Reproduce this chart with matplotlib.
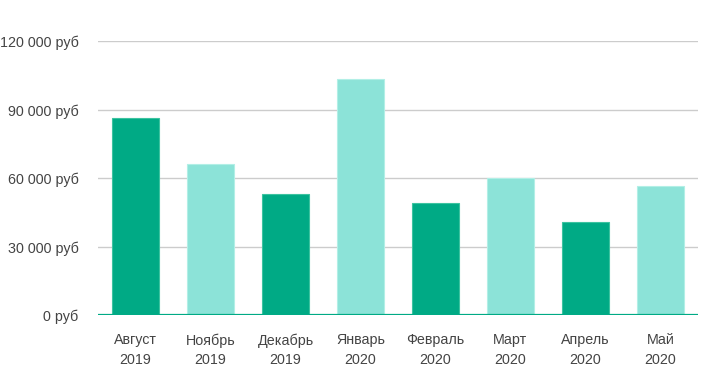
import matplotlib
matplotlib.use("Agg")
import matplotlib.pyplot as plt
from matplotlib.ticker import FuncFormatter

categories = ["Август\n2019", "Ноябрь\n2019", "Декабрь\n2019", "Январь\n2020",
              "Февраль\n2020", "Март\n2020", "Апрель\n2020", "Май\n2020"]
values = [86300, 66100, 53000, 103600, 49100, 60000, 40700, 56500]
yticks = [0, 30000, 60000, 90000, 120000]

dark = "#00aa85"
light = "#8ce3d8"
colors = [dark if i % 2 == 0 else light for i in range(len(values))]

plt.rcParams['font.family'] = ['Liberation Sans', 'DejaVu Sans']

fig = plt.figure(figsize=(7.18, 3.76), dpi=100)
ax = fig.add_axes([98/718, 60.7/376, 600/718, 274/376])

x = list(range(len(values)))
ax.bar(x, values, width=0.62, color=colors, edgecolor=["#3cc3a0" if c == dark else "#b2efe6" for c in colors],
       linewidth=0.8, zorder=3)

ax.set_xlim(-0.5, len(values) - 0.5)
ax.set_ylim(0, 120000)
ax.set_yticks(yticks)
ax.yaxis.set_major_formatter(FuncFormatter(lambda v, p: f"{int(v):,}".replace(",", " ") + " руб"))
ax.set_xticks(x)
ax.set_xticklabels(categories, linespacing=1.5)

ax.grid(axis='y', color='#cccccc', linewidth=1, zorder=0)
ax.axhline(0, color=dark, linewidth=1.6, zorder=4)
for s in ax.spines.values():
    s.set_visible(False)
ax.tick_params(axis='both', length=0, labelsize=10.3, labelcolor='#444444')
ax.tick_params(axis='y', pad=14)
ax.tick_params(axis='x', pad=13)

fig.savefig("out.png", dpi=100)
